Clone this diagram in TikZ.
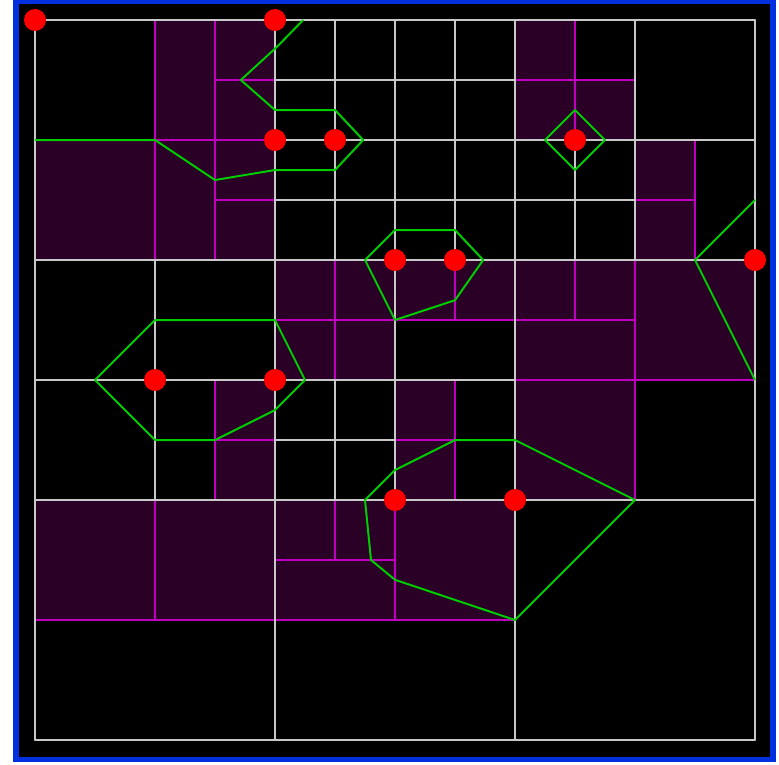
\documentclass[tikz,border=0pt]{standalone}
\definecolor{gridgray}{RGB}{200,200,200}
\definecolor{mag}{RGB}{190,0,190}
\definecolor{cellpurple}{RGB}{42,0,38}
\definecolor{hullgreen}{RGB}{0,205,0}
\definecolor{frameblue}{RGB}{0,48,224}
\begin{document}
\begin{tikzpicture}[x=1pt,y=-1pt,
  gl/.style={draw=gridgray,line width=1.8pt,line cap=round},
  ml/.style={draw=mag,line width=1.8pt},
  hull/.style={draw=hullgreen,line width=2pt,line join=round},
  cell/.style={fill=cellpurple},
  pt/.style={circle,fill=red,inner sep=0pt,minimum size=22pt}]
\useasboundingbox (0,0) rectangle (779,764);
\fill[white] (0,0) rectangle (779,764);
\fill[frameblue] (13,0) rectangle (776,762);
\fill[black] (19,4) rectangle (770,757);
\begin{scope}[shift={(35pt,-20pt)},x=60pt,y=-60pt]
% purple cells
\fill[cell] (0,2) rectangle (2,4);
\fill[cell] (2,0) rectangle (4,4);
\fill[cell] (8,0) rectangle (9,1);
\fill[cell] (8,1) rectangle (10,2);
\fill[cell] (10,2) rectangle (11,4);
\fill[cell] (4,4) rectangle (8,5);
\fill[cell] (4,5) rectangle (6,6);
\fill[cell] (6,6) rectangle (7,8);
\fill[cell] (3,6) rectangle (4,8);
\fill[cell] (8,4) rectangle (12,6);
\fill[cell] (8,6) rectangle (10,8);
\fill[cell] (0,8) rectangle (8,10);
% magenta lines
\draw[ml] (3,1)--(4,1) (8,1)--(10,1) (0,2)--(4,2) (3,3)--(4,3) (10,3)--(11,3)
  (4,5)--(10,5) (8,6)--(12,6) (3,7)--(4,7) (6,7)--(7,7) (4,9)--(6,9) (0,10)--(8,10);
\draw[ml] (2,0)--(2,4) (2,8)--(2,10) (3,0)--(3,4) (3,6)--(3,8) (5,4)--(5,6) (5,8)--(5,9)
  (6,8)--(6,10) (7,4)--(7,5) (7,6)--(7,8) (9,0)--(9,2) (9,4)--(9,5) (10,4)--(10,8) (11,2)--(11,4);
% gray lines
\draw[gl] (0,0)--(12,0) (4,1)--(8,1) (4,2)--(12,2) (4,3)--(10,3) (0,4)--(12,4)
  (0,6)--(8,6) (4,7)--(6,7) (0,8)--(12,8) (0,12)--(12,12);
\draw[gl] (0,0)--(0,12) (4,0)--(4,12) (5,0)--(5,4) (5,6)--(5,8) (6,0)--(6,8) (7,0)--(7,4)
  (8,0)--(8,12) (9,2)--(9,4) (10,0)--(10,4) (12,0)--(12,12) (2,4)--(2,8);
% green hulls
\draw[hull] (0,2)--(2,2)--(3,2.667)--(4,2.5)--(5,2.5)--(5.47,2)--(5,1.5)--(4,1.5)--(3.43,1)--(4.03,0.45)--(4.47,0);
\draw[hull] (8.5,2)--(9,1.5)--(9.5,2)--(9,2.5)--cycle;
\draw[hull] (6,3.5)--(7,3.5)--(7.47,4)--(7,4.67)--(6,5)--(5.5,4)--cycle;
\draw[hull] (12,3)--(11,4)--(12,6);
\draw[hull] (1,6)--(2,5)--(4,5)--(4.5,6)--(4,6.5)--(3,7)--(2,7)--cycle;
\draw[hull] (5.5,8)--(6,7.5)--(7,7)--(8,7)--(10,8)--(8,10)--(6,9.33)--(5.6,9)--cycle;
% red points
\node[pt] (p1) at (0,0) {};
\node[pt] (p2) at (4,0) {};
\node[pt] (p3) at (4,2) {};
\node[pt] (p4) at (5,2) {};
\node[pt] (p5) at (9,2) {};
\node[pt] (p6) at (6,4) {};
\node[pt] (p7) at (7,4) {};
\node[pt] (p8) at (12,4) {};
\node[pt] (p9) at (2,6) {};
\node[pt] (p10) at (4,6) {};
\node[pt] (p11) at (6,8) {};
\node[pt] (p12) at (8,8) {};
\end{scope}
\end{tikzpicture}
\end{document}
